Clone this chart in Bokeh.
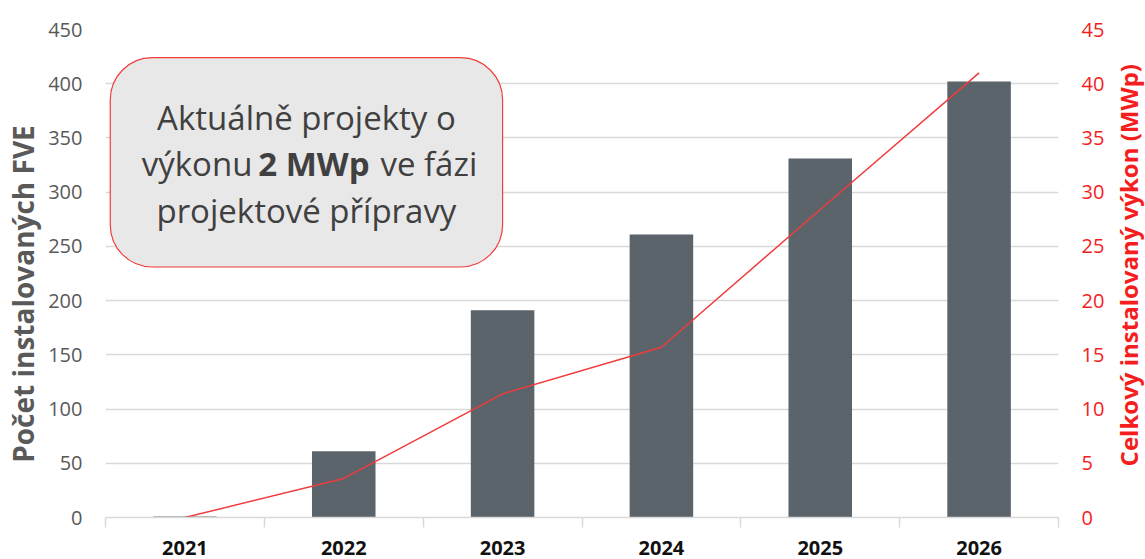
import math
from bokeh.plotting import figure
from bokeh.layouts import row
from bokeh.models import Range1d, LinearAxis, FixedTicker, BoxAnnotation, Label
from bokeh.core.properties import value
from bokeh.embed import file_html
from bokeh.resources import INLINE

# ---- data ----
years = ["2021", "2022", "2023", "2024", "2025", "2026"]
installed_count = [1, 61, 191, 261, 331, 402]          # Počet instalovaných FVE
installed_power_mwp = [0, 3.6, 11.4, 15.7, 28.4, 41.0]  # Celkový instalovaný výkon (MWp)
left_ticks = [0, 50, 100, 150, 200, 250, 300, 350, 400, 450]
right_ticks = [0, 5, 10, 15, 20, 25, 30, 35, 40, 45]
left_title = "Počet instalovaných FVE"
right_title = "Celkový instalovaný výkon (MWp)"

centers = [i + 0.5 for i in range(len(years))]
bounds = [float(i) for i in range(len(years) + 1)]

FONT = "Open Sans"
GRID = "#d9d9d9"
GRAY_TXT = "#595959"
RED = "#f51d1d"
H = 559
LW, RW = 44, 35
MW = 1145 - LW - RW

p = figure(width=MW, height=H, output_backend="svg", toolbar_location=None,
           x_range=Range1d(0, len(years)), y_range=Range1d(0, 450),
           min_border_left=105 - LW, min_border_right=1110 - 1058,
           min_border_top=29, min_border_bottom=42)
p.extra_y_ranges = {"mw": Range1d(0, 45)}
p.outline_line_color = None
p.background_fill_color = "white"
p.border_fill_color = "white"

# grid
p.xgrid.grid_line_color = None
p.ygrid.grid_line_color = GRID
p.ygrid.grid_line_width = 1.5
p.ygrid.ticker = FixedTicker(ticks=left_ticks)

# x axis
xa = p.xaxis[0]
xa.ticker = FixedTicker(ticks=centers, minor_ticks=bounds)
xa.major_label_overrides = {c: y for c, y in zip(centers, years)}
xa.major_tick_line_color = None
xa.major_tick_out = 10
xa.major_tick_in = 0
xa.minor_tick_line_color = GRID
xa.minor_tick_line_width = 1.5
xa.minor_tick_out = 10
xa.minor_tick_in = 0
xa.axis_line_color = GRID
xa.axis_line_width = 1.5
xa.major_label_text_font = FONT
xa.major_label_text_font_size = "20px"
xa.major_label_text_font_style = "bold"
xa.major_label_text_color = "#111111"
xa.major_label_standoff = 13

# left axis
ya = p.yaxis[0]
ya.ticker = FixedTicker(ticks=left_ticks)
ya.axis_line_color = None
ya.major_tick_line_color = None
ya.minor_tick_line_color = None
ya.major_tick_out = 0
ya.major_label_text_font = FONT
ya.major_label_text_font_size = "20px"
ya.major_label_text_color = GRAY_TXT
ya.major_label_standoff = 23

# right axis
ra = LinearAxis(y_range_name="mw", ticker=FixedTicker(ticks=right_ticks))
ra.axis_line_color = None
ra.major_tick_line_color = None
ra.minor_tick_line_color = None
ra.major_tick_out = 0
ra.major_label_text_font = FONT
ra.major_label_text_font_size = "20px"
ra.major_label_text_color = RED
ra.major_label_standoff = 23
p.add_layout(ra, "right")

# bars and line
p.vbar(x=centers, top=installed_count, width=0.4, fill_color="#5b636b", line_color=None)
p.line(centers, installed_power_mwp, y_range_name="mw", line_color="#f03c3c", line_width=1.5)

# annotation box
box = BoxAnnotation(left=0.03, right=2.5, bottom=231, top=424,
                    fill_color="#e8e8e8", fill_alpha=1.0,
                    line_color="#f23a3a", line_alpha=1.0, line_width=1.2, border_radius=42)
p.add_layout(box)

TXT = "#404040"
cx = 1.265
def lab(text, y, align="center", xoff=0, style="normal"):
    p.add_layout(Label(x=cx, y=y, x_offset=xoff, text=text, text_align=align,
                       text_baseline="middle", text_font=FONT, text_font_size="33px",
                       text_font_style=style, text_color=TXT))

lab("Aktuálně projekty o", 368.7)
lab("výkonu", 326.3, align="right", xoff=-54)
lab("2 MWp", 326.3, align="center", xoff=7.5, style="bold")
lab("ve fázi", 326.3, align="left", xoff=74)
lab("projektové přípravy", 282.9)

# side panels holding the axis titles (reading bottom-to-top)
def title_panel(width, text, color, size, y_center_from_top):
    f = figure(width=width, height=H, output_backend="svg", toolbar_location=None,
               x_range=Range1d(0, 1), y_range=Range1d(0, H),
               x_axis_location=None, y_axis_location=None,
               min_border=0, min_border_left=0, min_border_right=0,
               min_border_top=0, min_border_bottom=0)
    f.outline_line_color = None
    f.grid.visible = False
    f.background_fill_color = "white"
    f.border_fill_color = "white"
    f.text(x=[0.5], y=[H - y_center_from_top], text=[text], angle=math.pi / 2,
           text_align="center", text_baseline="middle", text_font=value(FONT),
           text_font_size=size, text_font_style="bold", text_color=color)
    return f

left_panel = title_panel(LW, left_title, GRAY_TXT, "28px", 303)
right_panel = title_panel(RW, right_title, RED, "24px", 270)

layout = row(left_panel, p, right_panel, spacing=0)
open("out.html", "w").write(file_html(layout, INLINE))
